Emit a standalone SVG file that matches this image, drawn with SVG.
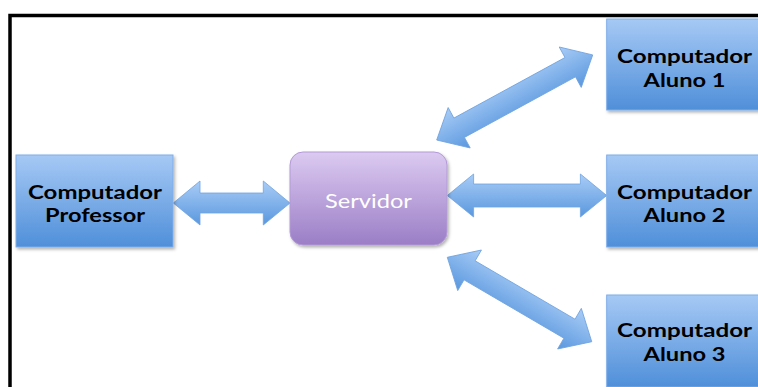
<svg xmlns="http://www.w3.org/2000/svg" width="758" height="387" viewBox="0 0 758 387">
  <defs>
    <linearGradient id="gBox" x1="0" y1="0" x2="0" y2="1">
      <stop offset="0" stop-color="#a6c9f5"/>
      <stop offset="1" stop-color="#4f8fd9"/>
    </linearGradient>
    <linearGradient id="gArrow" x1="0" y1="0" x2="0" y2="1">
      <stop offset="0" stop-color="#a9ccf6"/>
      <stop offset="1" stop-color="#5a98df"/>
    </linearGradient>
    <linearGradient id="gServ" x1="0" y1="0" x2="0" y2="1">
      <stop offset="0" stop-color="#dccaf1"/>
      <stop offset="1" stop-color="#9b7ec6"/>
    </linearGradient>
    <filter id="sh" x="-10%" y="-10%" width="130%" height="130%">
      <feDropShadow dx="1.5" dy="2" stdDeviation="1.5" flood-color="#000" flood-opacity="0.3"/>
    </filter>
  </defs>
  <style>
    .box { fill: url(#gBox); stroke: #7fadea; stroke-width: 1; filter: url(#sh); }
    .serv { fill: url(#gServ); stroke: #b39ad6; stroke-width: 1; filter: url(#sh); }
    .arrow { fill: url(#gArrow); stroke: #6fa3e0; stroke-width: 0.8; }
    .lbl { font-family: Lato, "Open Sans", sans-serif; font-weight: bold; font-size: 19px; fill: #000; text-anchor: middle; }
    .slbl { font-family: Lato, "Open Sans", sans-serif; font-size: 19px; fill: #ffffff; text-anchor: middle; }
  </style>
  <rect x="0" y="0" width="758" height="387" fill="#ffffff"/>
  <rect x="10" y="15.5" width="800" height="420" fill="none" stroke="#000" stroke-width="3.5"/>

  <g id="connectors">
    <path class="arrow" transform="translate(173.3,203)" d="M0,0 L26.7,-22 L26.7,-10 L90,-10 L90,-22 L116.7,0 L90,22 L90,10 L26.7,10 L26.7,22 Z"/>
    <path class="arrow" transform="translate(447.3,195.5)" d="M0,0 L26.3,-21.5 L26.3,-11.5 L133.1,-11.5 L133.1,-21.5 L159.4,0 L133.1,21.5 L133.1,11.5 L26.3,11.5 L26.3,21.5 Z"/>
    <path class="arrow" transform="translate(436.7,140) rotate(-28.6)" d="M0,0 L25.6,-23 L25.6,-11 L152.1,-11 L152.1,-23 L177.7,0 L152.1,23 L152.1,11 L25.6,11 L25.6,23 Z"/>
    <path class="arrow" transform="translate(447.3,257.3) rotate(30.3)" d="M0,0 L25.8,-23.5 L25.8,-11 L141.5,-11 L141.5,-23.5 L167.3,0 L141.5,23.5 L141.5,11 L25.8,11 L25.8,23.5 Z"/>
  </g>

  <g id="professor">
    <rect class="box" x="16" y="155" width="157" height="92"/>
    <text class="lbl" x="95" y="198.5" textLength="134" lengthAdjust="spacingAndGlyphs">Computador</text>
    <text class="lbl" x="95" y="221.7" textLength="100" lengthAdjust="spacingAndGlyphs">Professor</text>
  </g>

  <g id="servidor">
    <rect class="serv" x="290" y="152" width="157" height="93" rx="13" ry="13"/>
    <text class="slbl" x="368.5" y="208.3" textLength="87" lengthAdjust="spacingAndGlyphs">Servidor</text>
  </g>

  <g id="aluno1">
    <rect class="box" x="606.7" y="19" width="156" height="91"/>
    <text class="lbl" x="684.6" y="63.3" textLength="135" lengthAdjust="spacingAndGlyphs">Computador</text>
    <text class="lbl" x="684.6" y="86.5" textLength="82" lengthAdjust="spacingAndGlyphs">Aluno 1</text>
  </g>

  <g id="aluno2">
    <rect class="box" x="606.7" y="155" width="156" height="92"/>
    <text class="lbl" x="684.6" y="198.5" textLength="135" lengthAdjust="spacingAndGlyphs">Computador</text>
    <text class="lbl" x="684.6" y="221.7" textLength="82" lengthAdjust="spacingAndGlyphs">Aluno 2</text>
  </g>

  <g id="aluno3">
    <rect class="box" x="606.7" y="295" width="156" height="92"/>
    <text class="lbl" x="684.6" y="337" textLength="135" lengthAdjust="spacingAndGlyphs">Computador</text>
    <text class="lbl" x="684.6" y="361" textLength="82" lengthAdjust="spacingAndGlyphs">Aluno 3</text>
  </g>
</svg>
